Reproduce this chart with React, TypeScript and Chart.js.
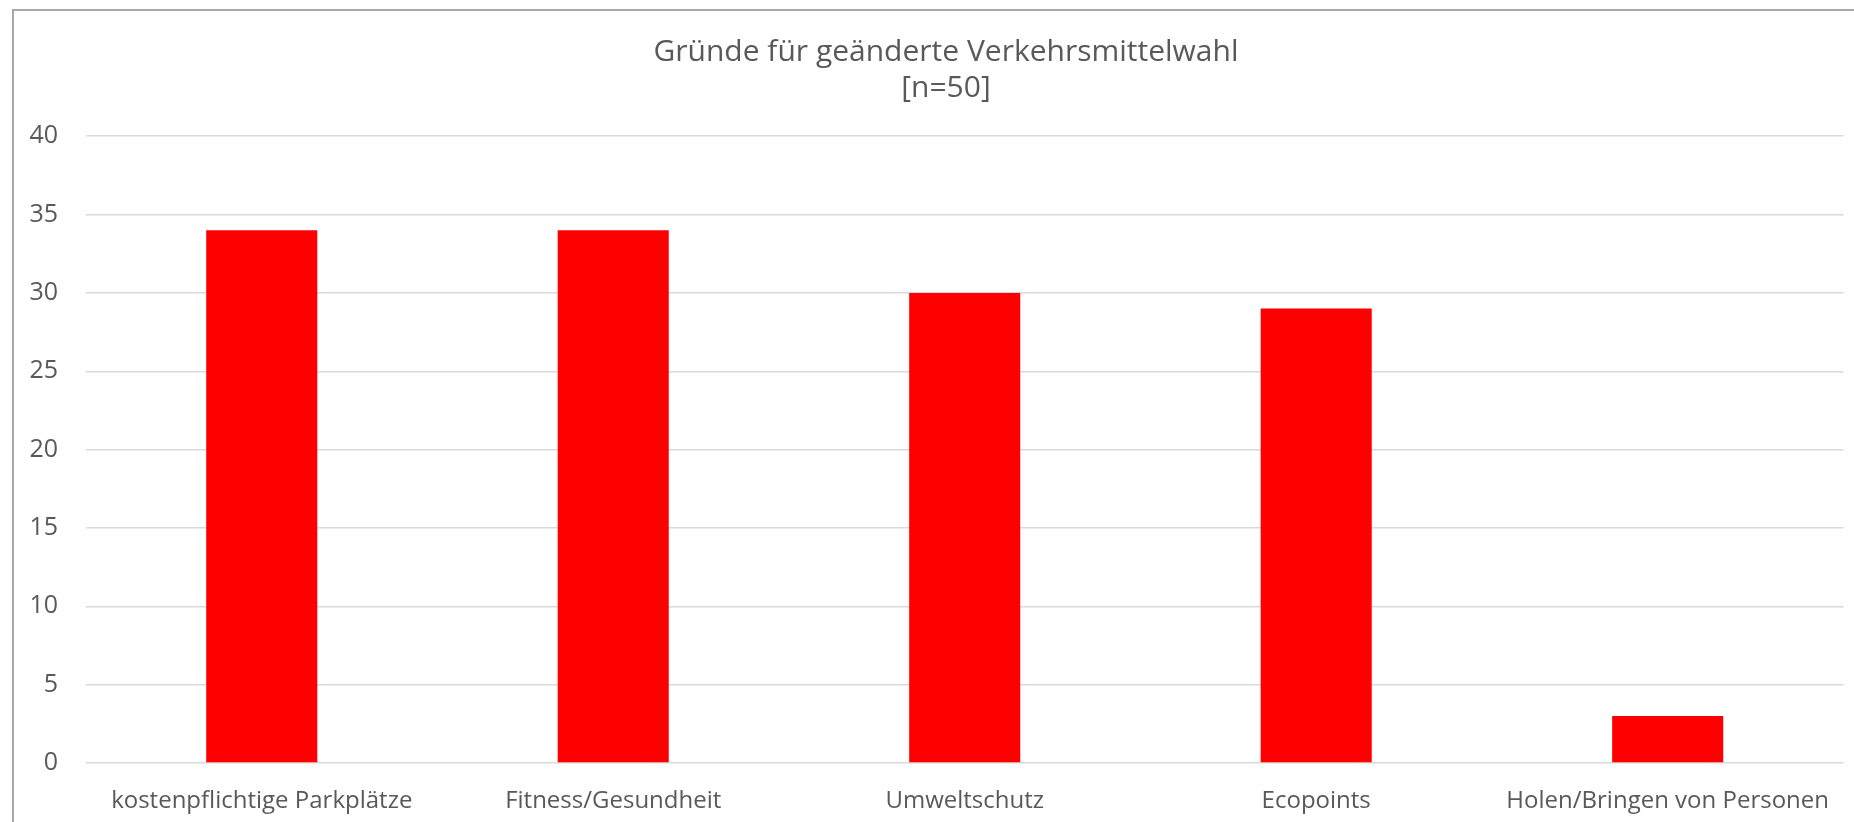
import React, { useEffect, useRef } from "react";
import { Chart, registerables } from "chart.js";

Chart.register(...registerables);

const categories = [
  "kostenpflichtige Parkplätze",
  "Fitness/Gesundheit",
  "Umweltschutz",
  "Ecopoints",
  "Holen/Bringen von Personen",
];
const values = [34, 34, 30, 29, 3];
const titleLines = ["Gründe für geänderte Verkehrsmittelwahl", "[n=50]"];
const yMin = 0;
const yMax = 40;
const yStep = 5;

const FONT = "'Open Sans', 'Liberation Sans', sans-serif";
const TEXT = "#595959";

const titleShift = {
  id: "titleShift",
  afterLayout(chart: any) {
    const tb = chart.titleBlock;
    if (tb) {
      tb.left = 38;
      tb.right = 1854;
    }
  },
};

export default function App() {
  const ref = useRef<HTMLCanvasElement | null>(null);

  useEffect(() => {
    document.body.style.margin = "0";
    const canvas = ref.current;
    if (!canvas) return;
    const chart = new Chart(canvas, {
      type: "bar",
      data: {
        labels: categories,
        datasets: [
          {
            data: values,
            backgroundColor: "#ff0000",
            borderWidth: 0,
            categoryPercentage: 1,
            barPercentage: 0.316,
          },
        ],
      },
      plugins: [titleShift],
      options: {
        responsive: false,
        animation: false,
        devicePixelRatio: 1,
        layout: { padding: { left: 0, right: 10, top: 0, bottom: 7 } },
        plugins: {
          legend: { display: false },
          tooltip: { enabled: false },
          title: {
            display: true,
            text: titleLines,
            color: TEXT,
            font: { family: FONT, size: 30, weight: "normal", lineHeight: 1.22 },
            padding: { top: 34, bottom: 29 },
          },
        },
        scales: {
          x: {
            grid: { display: false, drawTicks: false },
            border: { display: false },
            ticks: {
              color: TEXT,
              font: { family: FONT, size: 24, lineHeight: 1.2 },
              padding: 24,
              maxRotation: 0,
              autoSkip: false,
            },
            afterFit: (scale: any) => {
              scale.height = 52;
            },
          },
          y: {
            min: yMin,
            max: yMax,
            grid: { color: "#d9d9d9", lineWidth: 1.5, drawTicks: false },
            border: { display: false },
            ticks: {
              stepSize: yStep,
              color: TEXT,
              font: { family: FONT, size: 25 },
              padding: 28,
            },
            afterFit: (scale: any) => {
              scale.width = 86;
            },
          },
        },
      },
    });
    return () => chart.destroy();
  }, []);

  return (
    <div style={{ position: "absolute", left: 0, top: 0, width: 1854, height: 822, overflow: "hidden", background: "#fff" }}>
      <div
        style={{
          position: "absolute",
          left: 12,
          top: 9,
          width: 1900,
          height: 900,
          borderTop: "2px solid #a8a8a8",
          borderLeft: "2px solid #a8a8a8",
        }}
      />
      <canvas ref={ref} width={1854} height={822} style={{ position: "absolute", left: 0, top: 0 }} />
    </div>
  );
}
